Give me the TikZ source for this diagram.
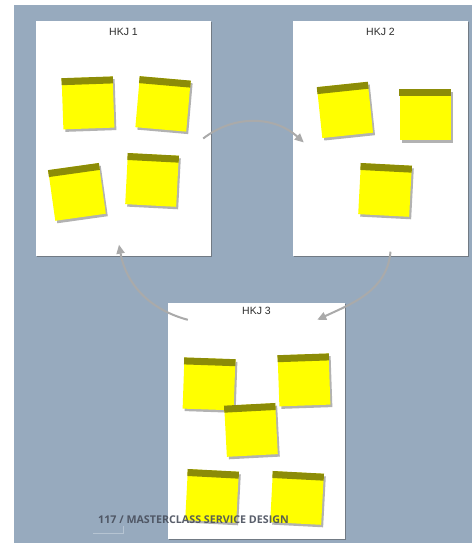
\documentclass[tikz,border=0pt]{standalone}
\usepackage{fontspec}
\setmainfont{Liberation Sans}
\newfontfamily\footfont{Open Sans}
\usepackage{tikz}
\usetikzlibrary{arrows.meta,shapes,positioning,calc,shadows}
\usepackage{xcolor}
\definecolor{boardbg}{RGB}{151,170,190}
\definecolor{notey}{RGB}{255,255,0}
\definecolor{notetop}{RGB}{140,140,8}
\definecolor{arcgray}{RGB}{170,170,170}
\definecolor{labelgray}{RGB}{45,45,45}
\definecolor{footgray}{RGB}{72,78,92}

\begin{document}
\begin{tikzpicture}[x=1pt, y=1pt,
    panel/.style={fill=white, minimum width=175pt, minimum height=235pt, inner sep=0pt,
        drop shadow={shadow xshift=1pt, shadow yshift=-1.5pt, opacity=.5, fill=black!70}},
    sticky/.style={fill=notey, minimum width=51pt, minimum height=51pt, inner sep=0pt,
        drop shadow={shadow xshift=2pt, shadow yshift=-2.5pt, opacity=.3, fill=black}},
    hkj/.style={font=\fontsize{10.5}{12}\selectfont, text=labelgray, inner sep=0pt},
    cycle arrow/.style={draw=arcgray, line width=2pt, -{Triangle[length=9pt,width=8pt]}}]
    % Hintergrund
    \useasboundingbox (0,0) rectangle (472,543);
    \fill[white] (0,0) rectangle (472,543);
    \fill[boardbg] (14,0) rectangle (472,538);

    % drei Boards
    \node[panel] (hkj1) at (123.5,404.5) {};
    \node[panel] (hkj2) at (380.5,404.5) {};
    \node[panel, minimum width=177pt, minimum height=236pt] (hkj3) at (256.5,122) {};
    \node[hkj] (t1) at ([yshift=-11pt]hkj1.north) {HKJ 1};
    \node[hkj] (t2) at ([yshift=-11pt]hkj2.north) {HKJ 2};
    \node[hkj] (t3) at ([yshift=-8pt]hkj3.north) {HKJ 3};

    % Post-its: Name/x/y/Winkel
    \foreach \n/\x/\y/\a in {n1/88/440/2, n2/163/439/-5, n3/77/351/8, n4/152/363/-3,
                             n5/345/433/6, n6/425/428/0, n7/385/353/-3,
                             n8/209/159/-2, n9/304/163/2, n10/251/113/3,
                             n11/212/47/-3, n12/297/45/-3} {
        \node[sticky, rotate=\a] (\n) at (\x,\y) {};
        \fill[notetop] (\n.north west) -- (\n.north east)
            -- ($(\n.north east)!7pt!(\n.south east)$)
            -- ($(\n.north west)!7pt!(\n.south west)$) -- cycle;
    }

    % Kreislauf
    \draw[cycle arrow] ([xshift=-8pt]hkj1.east) to[bend left=40] ([xshift=11pt,yshift=-4pt]hkj2.west);
    \draw[cycle arrow] ([xshift=10pt,yshift=4.5pt]hkj2.south) to[out=-95, in=25] ([xshift=-28pt,yshift=-17pt]hkj3.north east);
    \draw[cycle arrow] ([xshift=20pt,yshift=-17pt]hkj3.north west) to[out=165, in=-80] ([xshift=-4.5pt,yshift=11.5pt]hkj1.south);

    % Fusszeile
    \draw[boardbg!70!white, line width=.6pt] (93,10) -- (123,10) -- (123,17);
    \node[anchor=west, inner sep=0pt, text=footgray, opacity=.9,
          font=\footfont\bfseries\fontsize{10.7}{12}\selectfont] (footer) at (98,23)
        {117 / MASTERCLASS SERVICE DESIGN};
\end{tikzpicture}
\end{document}
